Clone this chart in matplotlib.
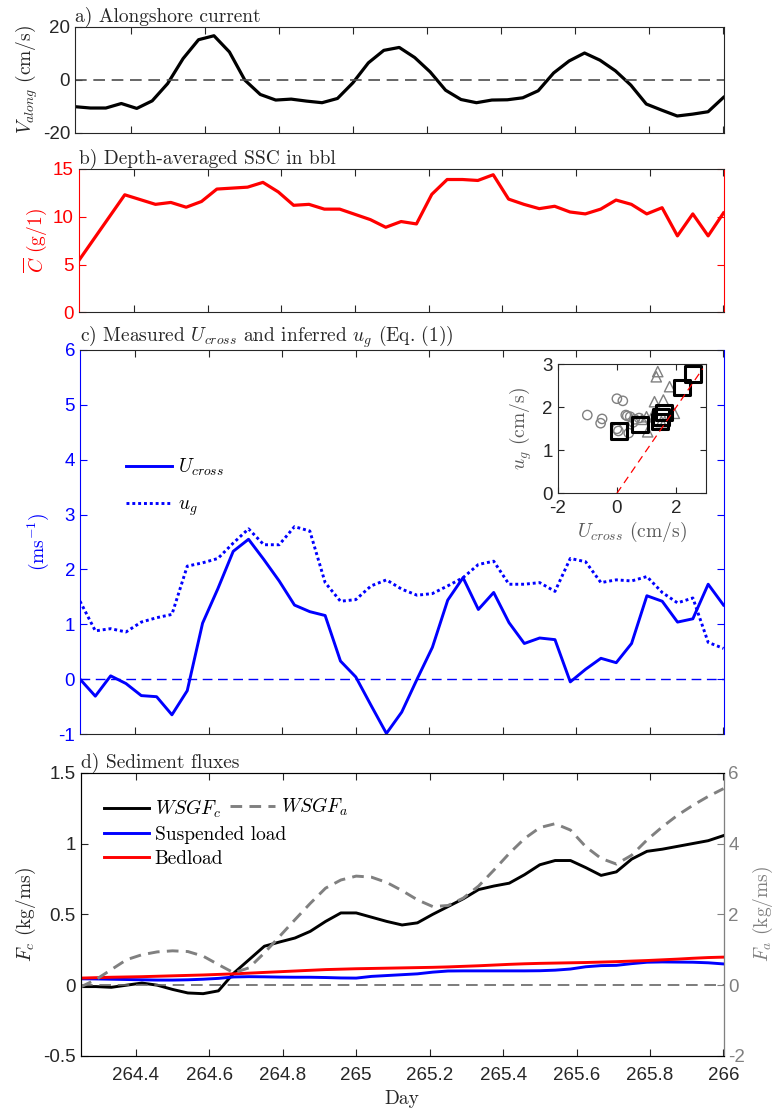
import numpy as np
import matplotlib
matplotlib.use("Agg")
import matplotlib.pyplot as plt

plt.rcParams['font.family'] = ['Liberation Sans', 'DejaVu Sans']
plt.rcParams['mathtext.fontset'] = 'cm'
plt.rcParams['axes.unicode_minus'] = False

# ==========================
# Data (hourly, day 264.25 -> 266)
# ==========================
day_start = 264.25
n_hours = 43

v_along = [-10.1, -10.6, -10.6, -8.9, -10.75, -7.9, -1.4, 8.0, 15.1, 16.6,
           10.5, -0.1, -5.5, -7.6, -7.25, -8.0, -8.6, -7.0, -1.1, 6.4,
           11.1, 12.2, 8.4, 3.0, -3.9, -7.4, -8.6, -7.6, -7.5, -6.75,
           -4.1, 2.6, 7.1, 10.1, 7.4, 3.4, -2.0, -9.1, -11.4, -13.6,
           -12.9, -12.0, -6.6]

ssc = [5.4, 7.7, 10.0, 12.3, 11.8, 11.3, 11.5, 11.0, 11.6, 12.9,
       13.0, 13.1, 13.6, 12.6, 11.2, 11.3, 10.8, 10.8, 10.25, 9.7,
       8.9, 9.5, 9.25, 12.35, 13.9, 13.9, 13.8, 14.4, 11.85, 11.3,
       10.85, 11.1, 10.5, 10.3, 10.8, 11.75, 11.3, 10.3, 10.95, 8.0,
       10.3, 8.0, 10.4]

u_cross = [0.0, -0.31, 0.06, -0.08, -0.3, -0.32, -0.65, -0.21, 1.02, 1.65,
           2.33, 2.55, 2.18, 1.79, 1.35, 1.23, 1.16, 0.33, 0.04, -0.48,
           -0.99, -0.6, 0.0, 0.58, 1.44, 1.85, 1.27, 1.58, 1.03, 0.65,
           0.75, 0.72, -0.05, 0.18, 0.38, 0.3, 0.65, 1.52, 1.42, 1.04,
           1.1, 1.73, 1.35]

u_g = [1.42, 0.88, 0.92, 0.86, 1.04, 1.12, 1.18, 2.06, 2.12, 2.2,
       2.48, 2.74, 2.45, 2.45, 2.78, 2.7, 1.76, 1.42, 1.45, 1.7,
       1.81, 1.64, 1.53, 1.56, 1.7, 1.85, 2.09, 2.15, 1.73, 1.73,
       1.76, 1.6, 2.2, 2.14, 1.76, 1.81, 1.79, 1.87, 1.58, 1.39,
       1.48, 0.67, 0.56]

wsgf_c = [-0.01, -0.01, -0.015, 0.0, 0.015, 0.0, -0.03, -0.055, -0.06, -0.04,
          0.085, 0.18, 0.275, 0.305, 0.333, 0.38, 0.45, 0.51, 0.51, 0.48,
          0.45, 0.425, 0.44, 0.5, 0.555, 0.61, 0.675, 0.7, 0.72, 0.78,
          0.85, 0.88, 0.88, 0.83, 0.775, 0.8, 0.89, 0.945, 0.96, 0.98,
          1.0, 1.02, 1.056]

wsgf_a = [-0.05, 0.16, 0.44, 0.72, 0.86, 0.94, 0.97, 0.95, 0.82, 0.58,
          0.35, 0.49, 0.91, 1.38, 1.85, 2.31, 2.74, 2.97, 3.08, 3.05,
          2.9, 2.67, 2.41, 2.22, 2.25, 2.46, 2.8, 3.25, 3.72, 4.14,
          4.45, 4.56, 4.38, 3.91, 3.58, 3.42, 3.67, 4.1, 4.47, 4.8,
          5.08, 5.33, 5.55]

suspended = [0.045, 0.044, 0.042, 0.040, 0.038, 0.036, 0.036, 0.038, 0.042, 0.048,
             0.058, 0.060, 0.059, 0.057, 0.056, 0.056, 0.054, 0.051, 0.050, 0.062,
             0.068, 0.074, 0.080, 0.092, 0.100, 0.101, 0.101, 0.101, 0.101, 0.101,
             0.102, 0.106, 0.114, 0.130, 0.138, 0.140, 0.152, 0.162, 0.164, 0.163,
             0.162, 0.158, 0.150]

bedload = [0.050, 0.053, 0.056, 0.058, 0.060, 0.063, 0.066, 0.069, 0.072, 0.076,
           0.080, 0.085, 0.090, 0.095, 0.100, 0.105, 0.110, 0.113, 0.116, 0.118,
           0.120, 0.122, 0.124, 0.126, 0.129, 0.133, 0.137, 0.142, 0.147, 0.151,
           0.154, 0.156, 0.158, 0.160, 0.163, 0.166, 0.170, 0.174, 0.179, 0.184,
           0.190, 0.195, 0.198]

# inset scatter
circ_u = [-1.0, -0.5, -0.55, 0.0, 0.2, 0.3, 0.45, 0.6, 0.75, 0.0, 0.05, 0.4, 0.35, 0.55]
circ_g = [1.82, 1.73, 1.63, 2.2, 2.15, 1.82, 1.78, 1.72, 1.75, 1.5, 1.45, 1.4, 1.8, 1.65]
tri_u = [1.38, 1.33, 1.78, 1.27, 1.57, 1.04, 1.94, 1.5, 1.62, 1.0, 1.2, 0.85]
tri_g = [2.83, 2.71, 2.48, 2.13, 2.17, 1.43, 1.86, 1.67, 1.67, 1.78, 1.8, 1.72]
sq_u = [0.07, 0.79, 1.47, 1.58, 1.5, 2.2, 2.56]
sq_g = [1.45, 1.6, 1.67, 1.88, 1.77, 2.46, 2.77]

days = day_start + np.arange(n_hours) / 24.0

# ==========================
# Figure
# ==========================
W, H = 774, 1111
fig = plt.figure(figsize=(W / 100, H / 100), dpi=100)

dark = '0.15'
serif = 'cmr10'
tick_fs = 13.5
lab_fs = 14
right_px = 723.5


def make_axes(left_px, top_px, bottom_px):
    return fig.add_axes([left_px / W, 1 - bottom_px / H,
                         (right_px - left_px) / W, (bottom_px - top_px) / H])


def style_x(ax, labels=False):
    ax.set_xlim(day_start, 266)
    ax.set_xticks(np.arange(264.4, 266.01, 0.2))
    ax.tick_params(axis='x', direction='in', top=True, bottom=True, length=5,
                   color=dark, labelbottom=labels, labelsize=tick_fs,
                   labelcolor=dark, pad=8)


def title(ax, text):
    ax.set_title(text, loc='left', fontfamily=serif, fontsize=lab_fs, pad=3, color=dark)


# --------------------------
# a) Alongshore current
# --------------------------
ax_a = make_axes(75, 26.7, 133)
ax_a.plot(days, v_along, color='k', lw=2.3)
ax_a.axhline(0, color='0.3', lw=1.2, ls=(0, (7, 4)))
ax_a.set_ylim(-20, 20)
ax_a.set_yticks([-20, 0, 20])
style_x(ax_a)
ax_a.tick_params(axis='y', direction='in', length=5, color=dark,
                 labelsize=tick_fs, labelcolor=dark)
for s in ax_a.spines.values():
    s.set_color(dark)
ax_a.set_ylabel(r'$V_{along}$ (cm/s)', fontfamily=serif, fontsize=lab_fs, color=dark, labelpad=2)
title(ax_a, 'a) Alongshore current')

# --------------------------
# b) Depth-averaged SSC
# --------------------------
red = '#ff0000'
ax_b = make_axes(78.7, 169, 312.3)
ax_b.plot(days, ssc, color=red, lw=2.3)
ax_b.set_ylim(0, 15)
ax_b.set_yticks([0, 5, 10, 15])
style_x(ax_b)
ax_b.tick_params(axis='y', direction='in', left=True, right=True, length=5,
                 color=red, labelsize=tick_fs, labelcolor=red)
ax_b.spines['left'].set_color(red)
ax_b.spines['right'].set_color(red)
ax_b.spines['top'].set_color(dark)
ax_b.spines['bottom'].set_color(dark)
ax_b.set_ylabel(r'$\overline{C}$ (g/1)', fontfamily=serif, fontsize=lab_fs, color=red, labelpad=3)
title(ax_b, 'b) Depth-averaged SSC in bbl')

# --------------------------
# c) U_cross and u_g
# --------------------------
blue = '#0000ff'
ax_c = make_axes(80, 350, 734)
ax_c.plot(days, u_cross, color=blue, lw=2.1, label=r'$U_{cross}$')
ax_c.plot(days, u_g, color=blue, lw=2.1, ls=(0, (1, 1)), label=r'$u_g$')
ax_c.axhline(0, color=blue, lw=1.0, ls=(0, (7, 4)))
ax_c.set_ylim(-1, 6)
ax_c.set_yticks(range(-1, 7))
style_x(ax_c)
ax_c.tick_params(axis='y', direction='in', left=True, right=True, length=5,
                 color=blue, labelsize=tick_fs, labelcolor=blue)
ax_c.spines['left'].set_color(blue)
ax_c.spines['right'].set_color(blue)
ax_c.spines['top'].set_color(dark)
ax_c.spines['bottom'].set_color(dark)
ax_c.set_ylabel(r'(ms$^{-1}$)', fontfamily=serif, fontsize=lab_fs, color=blue, labelpad=5)
title(ax_c, r'c) Measured $U_{cross}$ and inferred $u_g$ (Eq. (1))')
ax_c.legend(loc='center left', bbox_to_anchor=(0.044, 0.642), frameon=False,
            handlelength=2.4, handletextpad=0.3, labelspacing=0.9,
            prop={'family': serif, 'size': lab_fs})

# inset
ax_in = fig.add_axes([557.7 / W, 1 - 493.3 / H, 148 / W, 129 / H])
ax_in.scatter(circ_u, circ_g, s=45, facecolors='none', edgecolors='0.5', lw=1.0, marker='o')
ax_in.scatter(tri_u, tri_g, s=55, facecolors='none', edgecolors='0.5', lw=1.0, marker='^')
ax_in.scatter(sq_u, sq_g, s=130, facecolors='none', edgecolors='k', lw=2.2, marker='s')
ax_in.plot([0, 2.9], [0, 2.9], color=red, lw=0.9, ls=(0, (6, 4)))
ax_in.set_xlim(-2, 3)
ax_in.set_ylim(0, 3)
ax_in.set_xticks([-2, 0, 2])
ax_in.set_yticks([0, 1, 2, 3])
ax_in.tick_params(direction='in', top=True, right=True, length=4, color=dark,
                  labelsize=tick_fs, labelcolor=dark)
ax_in.tick_params(axis='x', pad=5)
for s in ax_in.spines.values():
    s.set_color(dark)
ax_in.set_xlabel(r'$U_{cross}$ (cm/s)', fontfamily=serif, fontsize=lab_fs, color='0.35', labelpad=2)
ax_in.set_ylabel(r'$u_g$ (cm/s)', fontfamily=serif, fontsize=lab_fs, color='0.35', labelpad=6)

# --------------------------
# d) Sediment fluxes
# --------------------------
gray = '0.5'
ax_d = make_axes(80.7, 772.7, 1056)
ax_d.plot(days, wsgf_c, color='k', lw=2.1, label=r'$WSGF_c$')
ax_d.plot(days, suspended, color=blue, lw=2.1, label='Suspended load')
ax_d.plot(days, bedload, color=red, lw=2.1, label='Bedload')
ax_d.axhline(0, color='0.4', lw=1.2, ls=(0, (7, 4)))
ax_d.set_ylim(-0.5, 1.5)
ax_d.set_yticks([-0.5, 0, 0.5, 1, 1.5])
ax_d.set_yticklabels(['-0.5', '0', '0.5', '1', '1.5'])
style_x(ax_d, labels=True)
ax_d.set_xticklabels(['264.4', '264.6', '264.8', '265', '265.2', '265.4',
                      '265.6', '265.8', '266'])
ax_d.tick_params(axis='y', direction='in', length=5, color=dark,
                 labelsize=tick_fs, labelcolor=dark)
for s in ax_d.spines.values():
    s.set_color(dark)
ax_d.set_ylabel(r'$F_c$ (kg/ms)', fontfamily=serif, fontsize=lab_fs, color=dark, labelpad=4)
ax_d.set_xlabel('Day', fontfamily=serif, fontsize=lab_fs, color=dark, labelpad=4)
title(ax_d, 'd) Sediment fluxes')
ax_d.legend(loc='center left', bbox_to_anchor=(0.009, 0.787), frameon=False,
            handlelength=2.3, handletextpad=0.3, labelspacing=0.3,
            prop={'family': serif, 'size': lab_fs})

ax_d2 = ax_d.twinx()
ax_d2.plot(days, wsgf_a, color=gray, lw=2.1, ls=(0, (4, 2.5)), label=r'$WSGF_a$')
ax_d2.set_ylim(-2, 6)
ax_d2.set_yticks([-2, 0, 2, 4, 6])
ax_d2.tick_params(axis='y', direction='in', length=5, color=gray,
                  labelsize=tick_fs, labelcolor=gray)
ax_d2.spines['right'].set_color(gray)
ax_d2.set_ylabel(r'$F_a$ (kg/ms)', fontfamily=serif, fontsize=lab_fs, color=gray, labelpad=4)
ax_d2.legend(loc='center left', bbox_to_anchor=(0.205, 0.879), frameon=False,
             handlelength=2.3, handletextpad=0.3,
             prop={'family': serif, 'size': lab_fs})

fig.savefig('out.png', dpi=100)
